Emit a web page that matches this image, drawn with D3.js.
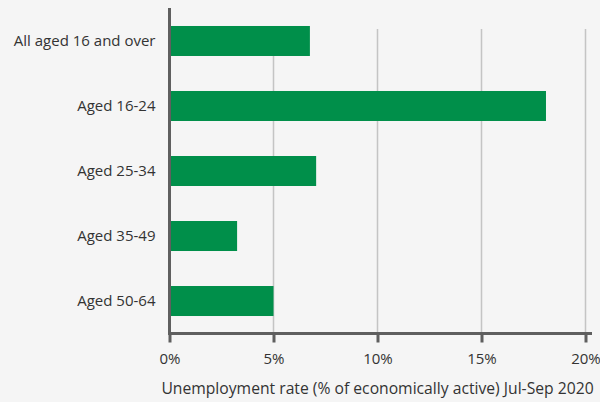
<!DOCTYPE html>
<html>
<head>
<meta charset="utf-8">
<script src="https://cdn.jsdelivr.net/npm/d3@7"></script>
<style>
  html, body { margin: 0; padding: 0; background: #f5f5f5; }
  svg { display: block; font-family: "Open Sans", sans-serif; }
</style>
</head>
<body>
<svg id="chart" width="600" height="402"></svg>
<script>
const categories = ["All aged 16 and over", "Aged 16-24", "Aged 25-34", "Aged 35-49", "Aged 50-64"];
const values = [6.75, 18.1, 7.05, 3.25, 5.0];
const tickValues = [0, 5, 10, 15, 20];
const tickLabels = ["0%", "5%", "10%", "15%", "20%"];
const axisTitle = "Unemployment rate (% of economically active) Jul-Sep 2020";

const svg = d3.select("#chart");
const x = d3.scaleLinear().domain([0, 20]).range([169.5, 585.5]);
const y = d3.scaleBand().domain(categories).range([8.5, 333.5])
  .paddingInner(0.5385).paddingOuter(0.269);

// gridlines
svg.append("g").selectAll("line").data(tickValues.slice(1)).join("line")
  .attr("x1", d => x(d)).attr("x2", d => x(d))
  .attr("y1", 29).attr("y2", 333)
  .attr("stroke", "#c4c4c4").attr("stroke-width", 1.5);

// bars
svg.append("g").selectAll("rect").data(values).join("rect")
  .attr("x", x(0))
  .attr("y", (d, i) => y(categories[i]))
  .attr("width", d => x(d) - x(0))
  .attr("height", y.bandwidth())
  .attr("fill", "#008f4a");

// y axis
const yAxis = svg.append("g").attr("transform", `translate(${x(0)},0)`)
  .call(d3.axisLeft(y).tickSize(0).tickPadding(14));
yAxis.select(".domain").attr("d", `M0,8V333.5`).attr("stroke", "#5f5f5f").attr("stroke-width", 3);
yAxis.selectAll("text").attr("font-size", 15).attr("fill", "#333").attr("font-family", "Open Sans");

// x axis
const xAxis = svg.append("g").attr("transform", `translate(0,333.5)`)
  .call(d3.axisBottom(x).tickValues(tickValues).tickFormat((d, i) => tickLabels[i]).tickSize(9).tickSizeOuter(0).tickPadding(11));
xAxis.select(".domain").attr("d", `M168,0H592`).attr("stroke", "#5f5f5f").attr("stroke-width", 3);
xAxis.selectAll(".tick line").attr("stroke", "#5f5f5f").attr("stroke-width", 3);
xAxis.selectAll("text").attr("font-size", 15).attr("fill", "#333").attr("font-family", "Open Sans");

svg.append("text")
  .attr("x", (x(0) + x(20)) / 2).attr("y", 394)
  .attr("text-anchor", "middle")
  .attr("font-size", 15.7).attr("fill", "#333")
  .text(axisTitle);
</script>
</body>
</html>
